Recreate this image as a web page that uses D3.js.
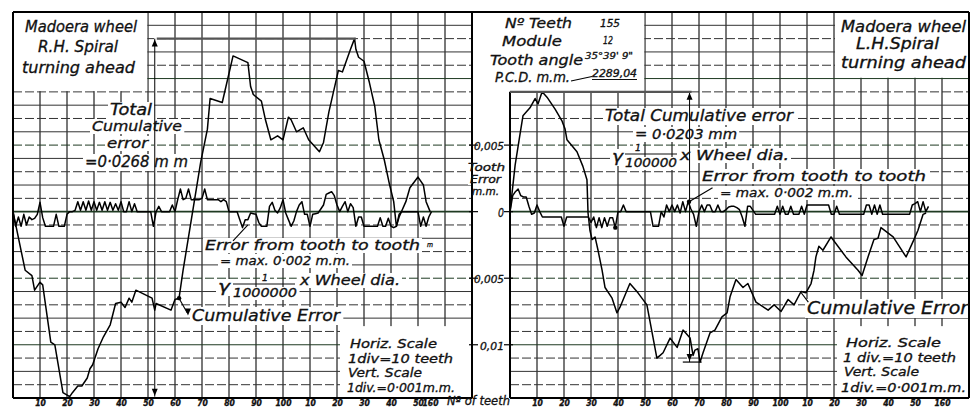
<!DOCTYPE html>
<html>
<head>
<meta charset="utf-8">
<script src="https://cdn.jsdelivr.net/npm/d3@7"></script>
<style>
  body { margin: 0; background: #fff; }
  text { font-family: "DejaVu Sans Condensed", "DejaVu Sans", sans-serif; font-style: oblique; fill: #111; stroke: #111; stroke-width: 0.3; }
</style>
</head>
<body>
<svg id="chart" width="976" height="409"></svg>
<script>
// ---- data (tooth number, error in 0.001 mm) ----
const leftToothErr = [
  0, -1.1, -0.4, -1.1, -0.2, -1.0, -0.4, -0.6, -0.5, -0.2,
  0.7, -0.45, -1.1, -1.1, -1.1, -1.1, -0.2, -1.1, -1.1, -1.1,
  -0.2, 0, 0, 0.1, 0.75, 0.1, 0.75, 0.1, 0.8, 0.1,
  0.75, 0.1, 0.7, 0.1, 0.75, 0.1, 0.7, 0.1, 0.6, 0.1,
  0.75, 0, 0, 0.75, 0, 0.6, 0, 0, 0, 0,
  0, 0, -1.1, 0, 0.4, 0, 0, 0, 0, 0.5,
  0, 0.9, 1.7, 0.9, 1.0, 1.7, 0.9, 0.9, 0.9, 0.9,
  1.0, 1.7, 0.9, 0.9, 0.9, 0.9, 0.9, 0.75, 0.9, 0.75,
  0, 0, 0, 0, -0.6, -1.2, -0.6, -0.6, -0.1, -0.15,
  -0.2, -0.8, -1.1, -1.1, -1.1, 0.4, 0.7, 0.1, -0.1, 0.3,
  0.9, -0.1, -0.6, -1.1, -0.7, 0, 0.5, 0.75, -0.2, -0.2,
  -1.1, -0.2, -0.15, -0.1, 0.2, 0.5, 1.3, 1.4, 1.5, 1.2,
  0.5, 0, 0.4, 0.75, 0, 0.6, 0.3, -1.1, -0.4, -0.4,
  -1.1, -1.1, -1.1, -1.1, -1.1, -1.1, -0.45, -1.1, -1.1, -0.5,
  -1.1, -1.2, -1.1, -0.2, 0, 0, 0, 0, 0, 0,
  0, -1.1, -0.4, -1.1, -0.4, 0
];

const rightToothErr = [
  0, 1.2, 1.5, 1.7, 1.2, 1.1, 1.1, 0.4, -0.2, -0.1,
  0.5, 0, -0.4, -0.4, -0.4, -0.4, -0.4, -0.4, -0.4, -0.4,
  -1.1, -0.4, -0.4, -0.4, -0.4, -0.4, -0.4, -0.4, -0.4, -0.4,
  -0.8, -0.4, -1.2, -0.45, -1.2, -0.45, -1.1, -0.45, -0.45, -1.2,
  0, 0, 0.5, 0, 0, 0, 0, 0, 0, 0,
  0, 0, 0, -1.1, -1.1, -1.1, 0, -0.4, 0.5, 0,
  0.5, 0, 0.5, -0.1, 0.75, 0, 0.75, 0.2, -0.2, -1.1,
  0, 0.5, 0, 0.5, 0.5, 0, 0, 0.5, 0, 0,
  0.15, 0.35, 0.4, 0.4, 0.3, 0.15, -0.4, -1.1, 0.4, 0.4,
  0.1, -0.2, -0.2, -0.2, -0.2, -0.2, -0.2, -0.2, -0.2, 0.4,
  -0.2, 0.4, -0.2, -0.2, 0.4, -0.2, -0.2, -0.2, 0.4, -0.2,
  0.5, 0.5, 0.5, 0.5, 0.5, 0.5, 0.5, 0.5, 0.5, -0.2,
  -0.2, 0.4, -0.2, -0.2, -0.2, -0.2, -0.2, -0.2, -0.2, -0.2,
  -0.2, -0.2, 0.5, 0.5, -0.2, 0.5, -0.2, 0.5, -0.2, -0.2,
  -0.2, -0.2, -0.2, -0.2, -0.2, -0.2, -0.2, -0.2, -0.2, 0.5,
  0.6, 0.75, 0, 0.75, 0, 0.4
];

const leftCumErr = [
  [0, 0], [4.5, -4.4], [7, -4.8], [8, -5.9], [10, -5.3], [11, -5.5], [14, -9.8], [15.5, -10],
  [18.5, -13.6], [21, -13.9], [22, -13.6], [24, -13.1], [25.5, -13.1], [27.5, -12.5], [28.5, -11.8],
  [29.5, -11.5], [31.5, -10.3], [33.5, -9.4], [36, -8.5], [38, -6.9], [40, -6.8], [41.5, -7.2],
  [43, -6.5], [44, -6.8], [45.5, -5.9], [51.5, -6.5], [52.5, -7.4], [53, -6.9], [58.5, -7.4],
  [60, -6.6], [61.5, -6.5], [63, -4.4], [69.5, 3.7], [72, 6.2], [73, 8.5], [77.5, 8.2], [81.5, 11.7],
  [87, 11.2], [88, 9.4], [89, 8.8], [92, 8.3], [93.5, 6.9], [95.5, 5.4], [98, 5.7], [100, 5.4],
  [102, 7.1], [103, 6.9], [105, 6.0], [107.5, 6.3], [109.5, 5.4], [113.5, 4.5], [115, 5.2],
  [117, 7.5], [120.5, 10.6], [122, 10.5], [125, 12.2], [126.5, 13.0], [127, 12.2], [128, 11.6],
  [130, 11.3], [132, 9.7], [134, 7.9], [135.5, 5.4], [137.5, 3.9], [139.5, 2.0], [141, 0.75],
  [142, -1.1], [143, -0.4], [145.5, 0.75], [147, 1.8], [150, 2.6], [152, 2.0], [153, 0.75], [154.5, 0]
];

const rightCumErr = [
  [0, 0], [1.9, 3.5], [3.7, 5.8], [4.8, 7.2], [7.4, 7.8], [9.3, 8.5], [10.4, 8.1], [11.9, 9.0],
  [13.7, 8.6], [16.7, 7.7], [19.3, 6.8], [20.4, 6.2], [21.1, 5.4], [24.8, 4.5], [27, 3.4], [28.5, 2.4],
  [28.9, -0.1], [29.6, -1.4], [30.4, -2.1], [31.5, -1.9], [32.6, -2.9], [34.1, -4.4], [35.2, -5.7],
  [37.8, -6.5], [39.6, -7.6], [40.7, -7.2], [44.4, -5.4], [47.4, -6.1], [50.7, -7.0], [54.4, -11.0],
  [55.6, -10.8], [56.7, -10.6], [59.3, -9.5], [61.9, -10.2], [64.1, -8.9], [66.7, -9.5], [67.8, -10.8],
  [68.5, -10.4], [69.6, -10.3], [70.4, -11.3], [71.5, -10.6], [74.1, -9.1], [75.9, -8.9], [78.5, -7.9],
  [80.4, -7.6], [81.5, -6.4], [83.7, -5.1], [86.3, -5.7], [88.1, -5.4], [91.1, -6.8], [95.6, -7.4],
  [97.8, -7.0], [100.4, -7.5], [103, -6.6], [105.2, -7.0], [107.8, -6.0], [109.6, -6.1], [111.5, -5.4],
  [112.6, -4.4], [113.3, -3.4], [114.4, -2.6], [115.9, -2.9], [118.9, -1.9], [124.4, -3.4],
  [128.9, -4.4], [130.4, -4.8], [132.6, -3.4], [134.8, -2.1], [136.3, -2.0], [137.4, -1.2],
  [141.9, -1.9], [146.7, -3.4], [149.6, -2.1], [151.1, -1.4], [153, -0.2], [154.1, -0.1]
];

const xTicks = d3.range(10, 161, 10);
const xTickLabels = ["10", "20", "30", "40", "50", "60", "70", "80", "90", "100", "10", "20", "30", "40", "50", "160"];
const yTicks = [5, 0, -5, -10];
const yTickLabels = ["0,005", "0", "0,005", "0,01"];

// ---- scales ----
const svg = d3.select("#chart");
const xL = d3.scaleLinear().domain([0, 170]).range([13, 472]);
const xR = d3.scaleLinear().domain([0, 170]).range([510, 969]);
const y = d3.scaleLinear().domain([-14, 15]).range([398, 12]);

svg.append("rect").attr("width", 976).attr("height", 409).attr("fill", "#fff");

const gridLayer = svg.append("g");
const bgLayer = svg.append("g");
const frameLayer = svg.append("g");
const curveLayer = svg.append("g");
const textLayer = svg.append("g");

// ---- grid ----
const drawGrid = (x) => {
  const [x0, x1] = x.range();
  gridLayer.append("g").selectAll("line").data(d3.range(10, 171, 10)).enter().append("line")
    .attr("x1", (d) => x(d)).attr("x2", (d) => x(d))
    .attr("y1", y(15)).attr("y2", y(-14))
    .attr("stroke", "#1e1e1e").attr("stroke-width", 1.2);
  gridLayer.append("g").selectAll("line").data(d3.range(-13, 15, 1)).enter().append("line")
    .attr("x1", x0).attr("x2", x1)
    .attr("y1", (d) => y(d)).attr("y2", (d) => y(d))
    .attr("stroke", (d) => (d % 5 === 0 ? "#1f3a22" : "#333"))
    .attr("stroke-width", (d) => (d === 0 ? 1.6 : 1))
    .attr("stroke-dasharray", (d) => (Math.abs(d) % 2 === 1 ? "9,3" : null));
};
drawGrid(xL);
drawGrid(xR);

// blank boxes on the grid
const blank = (x1, y1, x2, y2) =>
  bgLayer.append("rect").attr("x", x1).attr("y", y1).attr("width", x2 - x1).attr("height", y2 - y1).attr("fill", "#fff");
blank(xL(0) + 1, y(15) + 1, xL(50) - 0.8, y(9) - 0.8);
blank(xL(120) + 3, y(-8.6), xL(170) - 1, y(-14) - 1);
blank(xL(170) + 1, y(15) + 1, xR(50) - 0.8, y(9) - 0.8);
blank(xR(120) + 1, y(15) + 1, xR(170) - 1, y(10) - 0.8);
blank(xR(120) + 3, y(-8.6), xR(170) - 1, y(-14) - 1);

// ---- frame ----
const frame = (x1, y1, x2, y2, w) =>
  frameLayer.append("line").attr("x1", x1).attr("y1", y1).attr("x2", x2).attr("y2", y2)
    .attr("stroke", "#000").attr("stroke-width", w);
frame(xL(0), y(15), xR(170), y(15), 2);
frame(xL(0), y(-14), xL(170), y(-14), 2);
frame(xR(0), y(-14), xR(170), y(-14), 2);
frame(xL(0), y(15), xL(0), y(-14), 2);
frame(xL(170), y(15), xL(170), y(-14), 2);
frame(xR(0), y(9), xR(0), y(-14), 2);
frame(xR(170), y(15), xR(170), y(-14), 2);

// y ticks between the panels
yTicks.forEach((v) => {
  frame(xL(170) - 3, y(v), xL(170) + 6, y(v), 1.2);
  frame(xR(0) - 6, y(v), xR(0) + 3, y(v), 1.2);
});

// ---- axes ----
const drawAxis = (x, shiftLast) => {
  const g = svg.append("g")
    .attr("transform", `translate(0, ${y(-14)})`)
    .call(d3.axisBottom(x).tickValues(xTicks).tickSize(0).tickPadding(2)
      .tickFormat((d, i) => xTickLabels[i]));
  g.select(".domain").remove();
  g.selectAll("text")
    .attr("font-size", 8.5).attr("font-weight", "bold")
    .attr("dx", (d) => (d === 160 ? shiftLast : 0));
};
drawAxis(xL, -15);
drawAxis(xR, 0);

// ---- curves ----
const toothLine = (x) => d3.line().x((d, i) => x(i)).y((d) => y(d));
const cumLine = (x) => d3.line().x((d) => x(d[0])).y((d) => y(d[1]));

const drawCurve = (path, data) =>
  curveLayer.append("path").datum(data).attr("d", path)
    .attr("fill", "none").attr("stroke", "#000").attr("stroke-width", 1.5)
    .attr("stroke-linejoin", "round");
drawCurve(toothLine(xL), leftToothErr);
drawCurve(toothLine(xR), rightToothErr);
drawCurve(cumLine(xL), leftCumErr);
drawCurve(cumLine(xR), rightCumErr);

// ---- dimension lines for total cumulative error ----
const arrowHead = (cx, cy, dir) =>
  curveLayer.append("path")
    .attr("d", `M${cx},${cy} l-3,${-7 * dir} l6,0 z`)
    .attr("fill", "#000");

const dimension = (x, data, tooth, refFrom) => {
  const top = d3.greatest(data, (d) => d[1]);
  const bot = d3.least(data, (d) => d[1]);
  curveLayer.append("line")
    .attr("x1", x(tooth)).attr("x2", x(tooth))
    .attr("y1", y(top[1])).attr("y2", y(bot[1]))
    .attr("stroke", "#000").attr("stroke-width", 1);
  curveLayer.append("line")
    .attr("x1", x(refFrom)).attr("x2", x(tooth) + 2)
    .attr("y1", y(top[1])).attr("y2", y(top[1]))
    .attr("stroke", "#555").attr("stroke-width", 2.2);
  arrowHead(x(tooth), y(top[1]) + 1, -1);
  arrowHead(x(tooth), y(bot[1]) - 1, 1);
  return bot;
};
dimension(xL, leftCumErr, 52.5, 127);
const rBot = dimension(xR, rightCumErr, 66.5, 0);
curveLayer.append("line")
  .attr("x1", xR(64)).attr("x2", xR(71)).attr("y1", y(rBot[1])).attr("y2", y(rBot[1]))
  .attr("stroke", "#000").attr("stroke-width", 1.2);

// markers & pointers
const dot = (cx, cy) => curveLayer.append("circle").attr("cx", cx).attr("cy", cy).attr("r", 2.2).attr("fill", "#000");
const pointer = (x1, y1, x2, y2) =>
  curveLayer.append("line").attr("x1", x1).attr("y1", y1).attr("x2", x2).attr("y2", y2)
    .attr("stroke", "#000").attr("stroke-width", 1.1);
dot(xL(61.5), y(-6.5));
pointer(xL(61.5), y(-6.5), xL(64.5), y(-7.6));
arrowHead(xL(64.8), y(-7.8), 1);
pointer(xL(81.5), y(-2.2), xL(87), y(-1.0));
dot(xR(39), y(-1.2));
dot(xR(66.3), y(0.75));
pointer(xR(66.3), y(0.75), xR(75), y(1.8));
pointer(xR(110.5), y(-6.8), xR(107.5), y(-6.0));

// ---- text ----
const label = (txt, x1, x2, base, size, weight) => {
  const t = textLayer.append("text")
    .attr("x", x1).attr("y", base)
    .attr("font-size", size)
    .attr("font-weight", weight || "normal")
    .attr("textLength", x2 - x1)
    .attr("lengthAdjust", "spacingAndGlyphs")
    .text(txt);
  const b = t.node().getBBox();
  bgLayer.append("rect")
    .attr("x", b.x - 2).attr("y", b.y + 1).attr("width", b.width + 4).attr("height", b.height - 1)
    .attr("fill", "#fff");
  return t;
};
const bar = (x1, x2, yy) => textLayer.append("line").attr("x1", x1).attr("x2", x2)
  .attr("y1", yy).attr("y2", yy).attr("stroke", "#111").attr("stroke-width", 1.2);

// left panel
label("Madoera wheel", 25, 137, 32, 16);
label("R.H. Spiral", 38, 118, 52, 16);
label("turning ahead", 22, 135, 73, 16);
label("Total", 110, 152, 115, 15);
label("Cumulative", 92, 182, 131, 14);
label("error", 107, 148, 148, 14);
label("=0·0268 m m", 85, 188, 167, 15.5);
label("Error from tooth to tooth", 205, 420, 250, 13.5);
label("m", 427, 433, 247, 7);
label("= max. 0·002 m.m.", 220, 350, 265, 12.5);
label("γ", 218, 230, 292, 15);
label("1", 262, 268, 281, 9);
bar(233, 295, 284);
label("1000000", 233, 297, 297, 11.5);
label("x Wheel dia.", 300, 400, 285, 14);
label("Cumulative Error", 192, 340, 321, 16);
label("Horiz. Scale", 350, 437, 348, 12.5);
label("1div=10 teeth", 348, 453, 363, 12.5);
label("Vert. Scale", 348, 422, 377, 12.5);
label("1div.=0·001m.m.", 347, 455, 392, 12.5);

// between panels
yTicks.forEach((v, i) => {
  const w = yTickLabels[i].length * 6;
  label(yTickLabels[i], 504 - w, 504, y(v) + 5, v === 0 ? 13 : 11);
});
label("Tooth", 468, 505, 171, 10);
label("Error", 470, 501, 183, 10);
label("m.m.", 472, 499, 195, 10);
label("Nº of teeth", 447, 510, 405, 12.5);

// info block
label("Nº Teeth", 505, 572, 28, 14.5);
label("155", 600, 620, 27, 10);
label("Module", 502, 562, 46, 14.5);
label("12", 603, 613, 44, 10);
label("Tooth angle", 490, 583, 65, 14.5);
label("35°39' 9\"", 585, 633, 59, 8.5);
label("P.C.D. m.m.", 495, 570, 82, 13.5);
label("2289,04", 592, 637, 77, 10);
bar(592, 637, 79.5);
pointer(571, 81, 592, 76.5);

// right panel
label("Madoera wheel", 841, 966, 32, 16);
label("L.H.Spiral", 856, 939, 49, 15);
label("turning ahead", 841, 966, 68, 15);
label("Total Cumulative error", 605, 793, 121, 15.5);
label("= 0·0203 mm", 635, 737, 139, 13.5);
label("γ", 612, 623, 162, 15);
label("1", 635, 641, 151, 9);
bar(625, 677, 154);
label("100000", 625, 677, 167, 11.5);
label("x Wheel dia.", 680, 789, 160, 14.5);
label("Error from tooth to tooth", 702, 926, 181, 14.5);
label("= max. 0·002 m.m.", 720, 853, 197, 12.5);
label("Cumulative Error", 807, 968, 314, 17);
label("Horiz. Scale", 846, 941, 347, 12.5);
label("1 div.=10 teeth", 843, 956, 362, 12.5);
label("Vert. Scale", 844, 919, 376, 12.5);
label("1div.=0·001m.m.", 841, 966, 392, 12.5);
</script>
</body>
</html>
